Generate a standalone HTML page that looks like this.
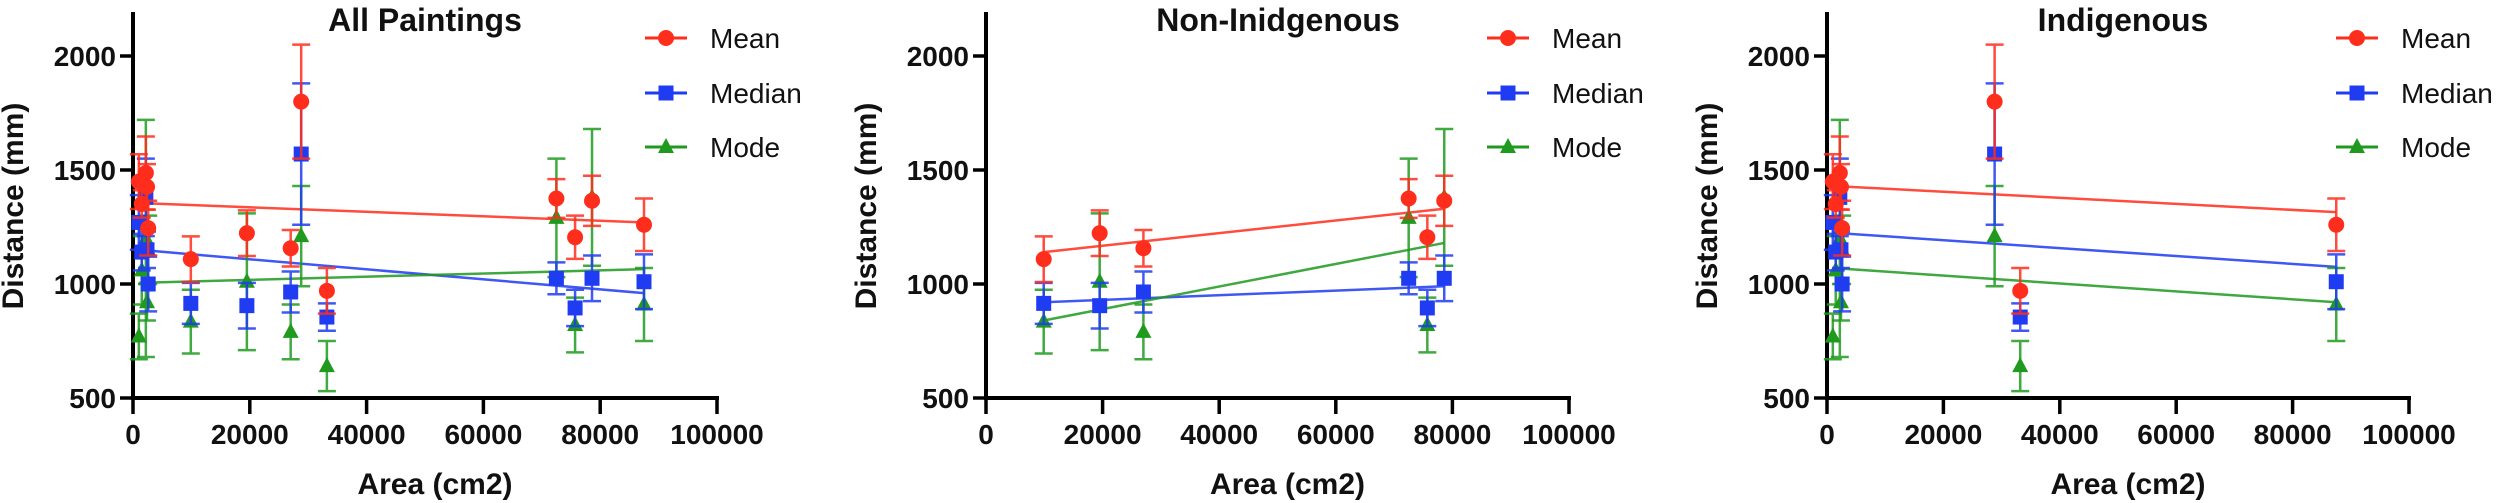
<!DOCTYPE html>
<html><head><meta charset="utf-8"><style>
html,body{margin:0;padding:0;background:#fff;}
svg{display:block;font-family:"Liberation Sans",Arial,sans-serif;}
</style></head><body>
<svg id="chart" width="2500" height="503" viewBox="0 0 2500 503"></svg>
<script>
// ---- data ----
const indigArea = [1000, 1500, 2200, 2400, 2600, 28800, 33200, 87500];
const indigMean = [1449, 1351, 1487, 1426, 1245, 1800, 970, 1260];
const indigMeanErr = [120, 60, 160, 100, 120, 250, 100, 115];
const indigMedian = [1270, 1140, 1380, 1150, 1000, 1570, 855, 1010];
const indigMedianErr = [120, 80, 170, 80, 120, 310, 60, 120];
const indigMode = [770, 1060, 1200, 920, 1150, 1210, 640, 910];
const indigModeErr = [100, 150, 520, 80, 150, 220, 110, 160];

const nonArea = [9900, 19500, 27000, 72500, 75700, 78600];
const nonMean = [1109, 1223, 1157, 1375, 1205, 1365];
const nonMeanErr = [100, 100, 80, 85, 95, 110];
const nonMedian = [915, 905, 965, 1025, 895, 1025];
const nonMedianErr = [90, 100, 90, 70, 80, 100];
const nonMode = [835, 1010, 790, 1290, 820, 1380];
const nonModeErr = [140, 300, 120, 260, 120, 300];

// fitted line endpoints [startX, endX, mean0, mean1, median0, median1, mode0, mode1]
const fitAll = [1000, 87500, 1355, 1270, 1150, 960, 1005, 1065];
const fitNon = [9900, 78600, 1140, 1330, 920, 990, 840, 1180];
const fitIndig = [1000, 87500, 1430, 1315, 1225, 1075, 1070, 920];

const xTicks = [0, 20000, 40000, 60000, 80000, 100000];
const yTicks = [500, 1000, 1500, 2000];
const seriesNames = ["Mean", "Median", "Mode"];
const titles = ["All Paintings", "Non-Inidgenous", "Indigenous"];

const NS = "http://www.w3.org/2000/svg";
const svg = document.getElementById("chart");
const COLORS = ["#ff2d1c", "#1f3cf2", "#1f9a1f"];
function mk(tag, attrs, parent) {
  const e = document.createElementNS(NS, tag);
  for (const k in attrs) e.setAttribute(k, attrs[k]);
  (parent || svg).appendChild(e);
  return e;
}
function marker(g, kind, cx, cy, color) {
  let m;
  if (kind === 0) m = mk("circle", {cx: cx, cy: cy, r: 8, fill: color}, g);
  else if (kind === 1) m = mk("rect", {x: cx - 7.5, y: cy - 7.5, width: 15, height: 15, fill: color}, g);
  else m = mk("polygon", {points: `${cx},${cy - 9} ${cx - 8},${cy + 6} ${cx + 8},${cy + 6}`, fill: color}, g);
  return m;
}

const panels = [
  {left: 133, right: 717, title: titles[0], tx: 425, legX: 666,
   area: indigArea.concat(nonArea),
   vals: [indigMean.concat(nonMean), indigMedian.concat(nonMedian), indigMode.concat(nonMode)],
   errs: [indigMeanErr.concat(nonMeanErr), indigMedianErr.concat(nonMedianErr), indigModeErr.concat(nonModeErr)],
   fit: fitAll},
  {left: 986, right: 1569, title: titles[1], tx: 1278, legX: 1508,
   area: nonArea, vals: [nonMean, nonMedian, nonMode], errs: [nonMeanErr, nonMedianErr, nonModeErr], fit: fitNon},
  {left: 1827, right: 2409, title: titles[2], tx: 2123, legX: 2357,
   area: indigArea, vals: [indigMean, indigMedian, indigMode], errs: [indigMeanErr, indigMedianErr, indigModeErr], fit: fitIndig}
];
const yTop = 56, yBot = 398;
function ys(v) { return yBot - (v - 500) / 1500 * (yBot - yTop); }

panels.forEach((p, pi) => {
  const g = mk("g", {});
  
  
  const xs = v => p.left + v / 100000 * (p.right - p.left);
  // axes
  const ax = mk("g", {}, g);
  
  
  mk("line", {x1: p.left, y1: 12, x2: p.left, y2: yBot + 2, stroke: "#000", "stroke-width": 4}, ax);
  mk("line", {x1: p.left - 2, y1: yBot, x2: p.right + 2, y2: yBot, stroke: "#000", "stroke-width": 4}, ax);
  yTicks.forEach(t => {
    mk("line", {x1: p.left - 13, y1: ys(t), x2: p.left, y2: ys(t), stroke: "#000", "stroke-width": 3.5}, ax);
    const tl = mk("text", {x: p.left - 17, y: ys(t) + 10, "text-anchor": "end", "font-size": 28, "font-weight": "bold", fill: "#111"}, ax);
    tl.textContent = t;
    
    
  });
  xTicks.forEach(t => {
    mk("line", {x1: xs(t), y1: yBot, x2: xs(t), y2: yBot + 16, stroke: "#000", "stroke-width": 3.5}, ax);
    const tl = mk("text", {x: xs(t), y: 444, "text-anchor": "middle", "font-size": 28, "font-weight": "bold", fill: "#111"}, ax);
    tl.textContent = t;
    
    
  });
  const xt = mk("text", {x: (p.left + p.right) / 2 + 10, y: 494, "text-anchor": "middle", "font-size": 30, "font-weight": "bold", fill: "#111"}, g);
  xt.textContent = "Area (cm2)";
  
  
  const ytx = p.left - 110;
  const yt = mk("text", {x: ytx, y: 206, transform: `rotate(-90 ${ytx} 206)`, "text-anchor": "middle", "font-size": 30, "font-weight": "bold", fill: "#111"}, g);
  yt.textContent = "Distance (mm)";
  
  
  const tt = mk("text", {x: p.tx, y: 31, "text-anchor": "middle", "font-size": 32, "font-weight": "bold", fill: "#111"}, g);
  tt.textContent = p.title;
  
  
  // fit lines
  for (let s = 0; s < 3; s++) {
    const fl = mk("line", {x1: xs(p.fit[0]), y1: ys(p.fit[2 + s * 2]), x2: xs(p.fit[1]), y2: ys(p.fit[3 + s * 2]), stroke: COLORS[s], "stroke-width": 2.5, opacity: 0.85}, g);
    
    
  }
  // points with error bars (draw mode, median, mean so mean on top)
  [2, 1, 0].forEach(s => {
    const sg = mk("g", {}, g);
    
    
    p.area.forEach((a, i) => {
      const cx = xs(a), v = p.vals[s][i], e = p.errs[s][i];
      const eb = mk("path", {d: `M${cx},${ys(v + e)}V${ys(v - e)}M${cx - 9},${ys(v + e)}H${cx + 9}M${cx - 9},${ys(v - e)}H${cx + 9}`, stroke: COLORS[s], "stroke-width": 2.5, fill: "none", opacity: 0.85}, sg);
      
      
      const m = marker(sg, s, cx, ys(v), COLORS[s]);
      
      
    });
  });
  // legend
  const lg = mk("g", {}, g);
  
  
  [38, 93, 147].forEach((ly, s) => {
    const le = mk("g", {}, lg);
    
    
    mk("line", {x1: p.legX - 21, y1: ly, x2: p.legX + 21, y2: ly, stroke: COLORS[s], "stroke-width": 3}, le);
    marker(le, s, p.legX, ly, COLORS[s]);
    const lt = mk("text", {x: p.legX + 44, y: ly + 10, "font-size": 28, fill: "#111"}, le);
    lt.textContent = seriesNames[s];
  });
});
</script>
</body></html>
